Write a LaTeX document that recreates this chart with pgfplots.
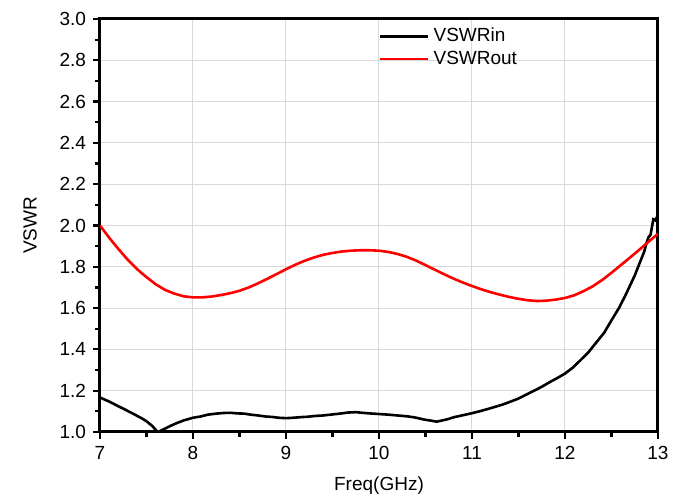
\documentclass[border=0pt]{standalone}
\usepackage{pgfplots}
\pgfplotsset{compat=1.18}
\usepackage{fontspec}
\setmainfont{Liberation Sans}
\begin{document}
\begin{tikzpicture}
\begin{axis}[
  name=main,
  scale only axis,
  width=279pt, height=206.5pt,
  xmin=7, xmax=13, ymin=1, ymax=3,
  xtick={7,8,...,13},
  ytick={1.0,1.2,...,3.01},
  minor x tick num=1,
  minor y tick num=1,
  tick align=outside,
  xtick pos=bottom, ytick pos=left,
  major tick length=3.5pt,
  minor tick length=2.5pt,
  every tick/.style={black, line width=1.1pt},
  axis line style={line width=1.5pt},
  grid=major,
  major grid style={gray!30, line width=0.5pt},
  font=\fontsize{9.5}{11}\selectfont,
  /pgf/number format/assume math mode=true,
  yticklabel style={/pgf/number format/.cd, fixed, fixed zerofill, precision=1},
  xticklabel style={/pgf/number format/.cd, fixed, precision=0},
  xlabel={Freq(GHz)},
  ylabel={VSWR},
  xlabel style={at={(axis description cs:0.5,0)}, anchor=center, yshift=-27pt},
  ylabel style={at={([xshift=-35pt]axis description cs:0,0.5)}, anchor=center},
  legend style={at={([yshift=-2.5pt]axis cs:10.0,3.0)}, anchor=north west, draw=none, fill=none,
    inner sep=0pt, outer sep=0pt, row sep=-1pt, font=\fontsize{9.5}{11}\selectfont,
    cells={anchor=west}},
  legend image code/.code={\draw[#1] (0pt,0pt) -- (24pt,0pt);},
]
\addplot[black, line width=1.3pt] coordinates {
(7.00,1.167) (7.10,1.147) (7.20,1.124) (7.25,1.113) (7.35,1.090) (7.45,1.066)
(7.50,1.052) (7.56,1.030) (7.62,1.000) (7.68,1.012) (7.75,1.028) (7.82,1.042)
(7.90,1.056) (8.00,1.069) (8.08,1.075) (8.16,1.084) (8.25,1.089) (8.33,1.092)
(8.40,1.093) (8.48,1.090) (8.55,1.089) (8.62,1.084) (8.70,1.080) (8.78,1.075)
(8.85,1.073) (8.92,1.069) (9.00,1.067) (9.08,1.069) (9.16,1.072) (9.24,1.074)
(9.32,1.078) (9.40,1.080) (9.50,1.085) (9.58,1.089) (9.66,1.094) (9.75,1.096)
(9.82,1.093) (9.90,1.090) (10.00,1.087) (10.10,1.084) (10.20,1.080) (10.30,1.076)
(10.38,1.071) (10.45,1.064) (10.50,1.059) (10.56,1.055) (10.62,1.050) (10.68,1.056)
(10.74,1.062) (10.80,1.071) (10.88,1.079) (10.95,1.086) (11.00,1.091) (11.08,1.100)
(11.16,1.110) (11.25,1.122) (11.33,1.133) (11.42,1.148) (11.50,1.162) (11.58,1.180)
(11.66,1.198) (11.75,1.219) (11.83,1.240) (11.92,1.262) (12.00,1.283) (12.08,1.310)
(12.16,1.345) (12.25,1.385) (12.33,1.430) (12.42,1.480) (12.50,1.541) (12.58,1.600)
(12.65,1.662) (12.70,1.710) (12.75,1.758) (12.80,1.815) (12.85,1.871) (12.88,1.920)
(12.90,1.945) (12.92,1.955) (12.95,2.030) (12.97,2.025) (13.00,2.050)
};
\addlegendentry{VSWRin}
\addplot[red, line width=1.3pt] coordinates {
(7.00,2.000) (7.10,1.940) (7.20,1.885) (7.30,1.833) (7.40,1.788) (7.50,1.750)
(7.60,1.715) (7.70,1.688) (7.80,1.670) (7.90,1.657) (8.00,1.652) (8.10,1.652)
(8.20,1.656) (8.30,1.663) (8.40,1.672) (8.50,1.684) (8.60,1.700) (8.70,1.720)
(8.80,1.742) (8.90,1.765) (9.00,1.788) (9.10,1.810) (9.20,1.829) (9.30,1.845)
(9.40,1.858) (9.50,1.867) (9.60,1.874) (9.70,1.878) (9.80,1.880) (9.90,1.880)
(10.00,1.878) (10.10,1.872) (10.20,1.862) (10.30,1.848) (10.40,1.830) (10.50,1.808)
(10.60,1.786) (10.70,1.764) (10.80,1.743) (10.90,1.724) (11.00,1.707) (11.10,1.691)
(11.20,1.677) (11.30,1.665) (11.40,1.654) (11.50,1.645) (11.60,1.638) (11.70,1.634)
(11.80,1.636) (11.90,1.641) (12.00,1.649) (12.10,1.662) (12.20,1.682) (12.30,1.706)
(12.40,1.736) (12.50,1.771) (12.60,1.808) (12.70,1.845) (12.80,1.883) (12.90,1.922)
(13.00,1.960)
};
\addlegendentry{VSWRout}
\end{axis}
\path ([shift={(-50pt,-32.5pt)}]main.south west) rectangle ([shift={(14pt,9.5pt)}]main.north east);
\end{tikzpicture}
\end{document}
